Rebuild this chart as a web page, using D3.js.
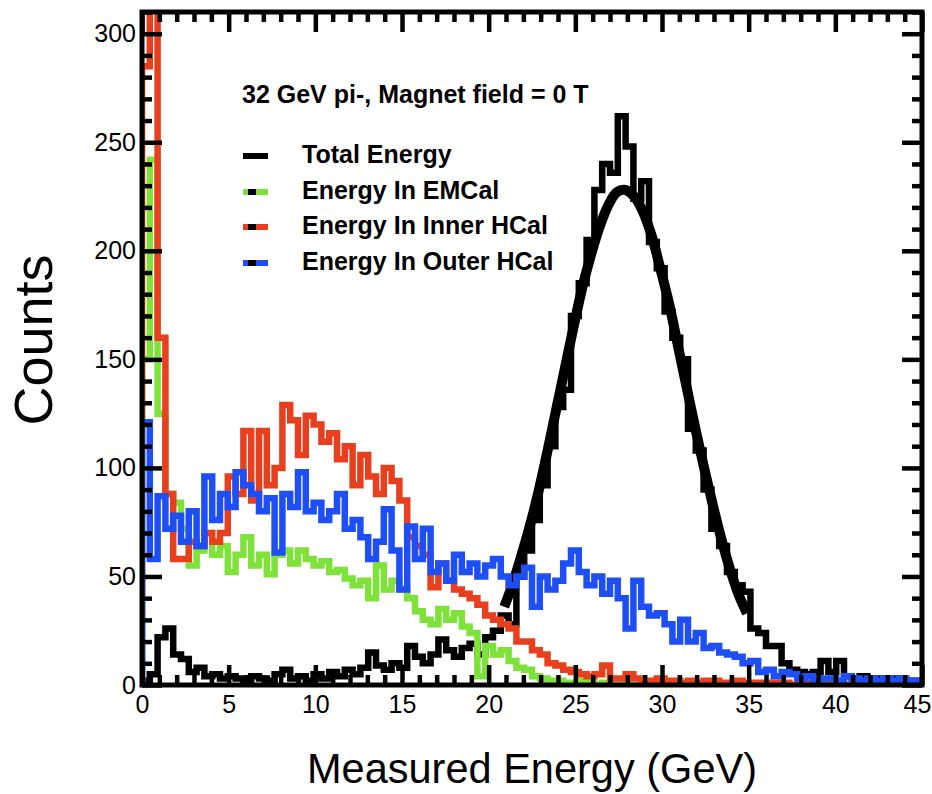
<!DOCTYPE html>
<html>
<head>
<meta charset="utf-8">
<script src="https://cdn.jsdelivr.net/npm/d3@7"></script>
<style>
  body { margin: 0; background: #fff; }
  svg { display: block; }
  text { font-family: "Liberation Sans", Arial, Helvetica, sans-serif; fill: #000; }
</style>
</head>
<body>
<div id="chart-holder"></div>
<script>
// histogram binning: 100 bins of 0.45 GeV from 0 to 45
const binWidth = 0.45;

const totalCounts = [
  2, 5, 22, 26, 14, 12, 6, 8, 4, 5,
  3, 4, 3, 2, 4, 3, 2, 5, 7, 3,
  4, 2, 5, 3, 6, 4, 7, 5, 8, 15,
  9, 7, 10, 8, 18, 13, 10, 14, 21, 16,
  13, 17, 19, 14, 22, 25, 32, 28, 50, 62,
  76, 92, 110, 128, 136, 170, 185, 205, 228, 240,
  236, 262, 248, 224, 232, 204, 192, 172, 160, 150,
  118, 108, 90, 72, 64, 52, 46, 43, 26, 24,
  18, 18, 10, 7, 6, 5, 6, 11, 6, 11,
  4, 3, 4, 2, 3, 2, 3, 2, 2, 2
];

const emcalCounts = [
  150, 242, 125, 88, 84, 72, 55, 62, 70, 60,
  64, 52, 60, 68, 55, 60, 51, 60, 62, 56,
  62, 58, 55, 57, 52, 53, 49, 46, 48, 40,
  55, 44, 48, 44, 40, 34, 30, 28, 35, 30,
  33, 27, 24, 4, 18, 14, 16, 11, 8, 7,
  4, 3, 2, 2, 1, 1, 2, 1, 0, 1,
  0, 0, 0, 0, 0, 0, 0, 0, 0, 0,
  0, 0, 0, 0, 0, 0, 0, 0, 0, 0,
  0, 0, 0, 0, 0, 0, 0, 0, 0, 0,
  0, 0, 0, 0, 0, 0, 0, 0, 0, 0
];

const innerHcalCounts = [
  285, 330, 160, 88, 58, 58, 66, 64, 70, 66,
  70, 96, 88, 117, 85, 117, 92, 100, 129, 122,
  106, 124, 120, 112, 116, 104, 110, 92, 106, 96,
  88, 100, 94, 85, 68, 64, 60, 45, 56, 48,
  44, 42, 40, 37, 32, 30, 28, 26, 20, 20,
  16, 14, 10, 9, 7, 6, 5, 4, 5, 9,
  3, 3, 5, 3, 2, 2, 3, 2, 2, 1,
  2, 1, 2, 2, 1, 1, 2, 1, 1, 1,
  1, 1, 1, 0, 1, 1, 0, 1, 0, 0,
  0, 0, 0, 0, 0, 0, 0, 0, 0, 0
];

const outerHcalCounts = [
  121, 58, 87, 72, 78, 66, 80, 64, 96, 76,
  88, 82, 98, 92, 88, 80, 86, 61, 88, 82,
  98, 80, 84, 76, 80, 88, 72, 76, 68, 58,
  66, 81, 62, 44, 73, 58, 72, 52, 56, 48,
  60, 52, 56, 50, 55, 58, 50, 46, 50, 54,
  36, 50, 44, 48, 56, 62, 52, 46, 50, 42,
  48, 40, 26, 48, 36, 32, 33, 28, 20, 30,
  20, 24, 17, 18, 15, 14, 13, 10, 11, 6,
  7, 4, 6, 5, 3, 4, 2, 3, 3, 2,
  4, 3, 2, 3, 2, 3, 2, 3, 2, 2
];

// fitted curve on the total energy peak
const fitEnergy = [20.9, 21.4, 21.9, 22.4, 22.9, 23.4, 23.9, 24.4, 24.9, 25.4, 25.9, 26.4, 26.9, 27.4, 27.9,
  28.4, 28.9, 29.4, 29.9, 30.4, 30.9, 31.4, 31.9, 32.4, 32.9, 33.4, 33.9, 34.4, 34.9];
const fitCounts = [36, 47, 60, 74, 90, 108, 127, 146, 165, 183, 198, 211, 221, 227, 228,
  225, 218, 207, 192, 176, 157, 138, 119, 101, 84, 68, 54, 42, 33];

const xTicks = [0, 5, 10, 15, 20, 25, 30, 35, 40, 45];
const yTicks = [0, 50, 100, 150, 200, 250, 300];

const legendLabels = ["Total Energy", "Energy In EMCal", "Energy In Inner HCal", "Energy In Outer HCal"];
const seriesColors = ["#000000", "#7ee23a", "#e8401f", "#1d4ef6"];

const width = 932;
const height = 794;
const marginLeft = 142;
const marginRight = 10;
const marginTop = 12;
const marginBottom = 109;

const x = d3.scaleLinear().domain([0, 45]).range([marginLeft, width - marginRight]);
const y = d3.scaleLinear().domain([0, 310]).range([height - marginBottom, marginTop]);

const svg = d3.select("#chart-holder")
  .append("svg")
  .attr("width", width)
  .attr("height", height);

svg.append("defs").append("clipPath")
  .attr("id", "plot-clip")
  .append("rect")
  .attr("x", x(0))
  .attr("y", y(310))
  .attr("width", x(45) - x(0))
  .attr("height", y(0) - y(310));

const plot = svg.append("g").attr("clip-path", "url(#plot-clip)");

const histLine = d3.line()
  .x((d) => x(d[0]))
  .y((d) => y(d[1]))
  .curve(d3.curveStepAfter);

const histPoints = (counts) => {
  const pts = [[0, 0]];
  counts.forEach((c, i) => pts.push([i * binWidth, c]));
  pts.push([counts.length * binWidth, counts[counts.length - 1]]);
  return pts;
};

// total energy histogram and fit
plot.append("path")
  .attr("d", histLine(histPoints(totalCounts)))
  .attr("fill", "none")
  .attr("stroke", seriesColors[0])
  .attr("stroke-width", 6.5);

const fitLine = d3.line()
  .x((d, i) => x(fitEnergy[i]))
  .y((d) => y(d))
  .curve(d3.curveCatmullRom);

plot.append("path")
  .attr("d", fitLine(fitCounts))
  .attr("fill", "none")
  .attr("stroke", "#000")
  .attr("stroke-width", 10);

[[emcalCounts, 1], [innerHcalCounts, 2], [outerHcalCounts, 3]].forEach(([counts, k]) => {
  plot.append("path")
    .attr("d", histLine(histPoints(counts)))
    .attr("fill", "none")
    .attr("stroke", seriesColors[k])
    .attr("stroke-width", 6.5);
});

// axes: ticks on all four sides, pointing inward
const minorX = d3.range(0, 46, 1).filter((v) => v % 5 !== 0);
const minorY = d3.range(0, 311, 10).filter((v) => v % 50 !== 0);

const styleAxis = (g) => {
  g.select(".domain").remove();
  g.selectAll(".tick line").attr("stroke", "#000").attr("stroke-width", 4.5);
  g.selectAll(".tick text").attr("font-size", 25).attr("fill", "#000");
};

svg.append("g")
  .attr("transform", `translate(0,${y(0)})`)
  .call(d3.axisBottom(x).tickValues(xTicks).tickSize(-20).tickPadding(10).tickFormat(d3.format("d")))
  .call(styleAxis)
  .call((g) => g.selectAll(".tick text").filter((d) => d === 45).attr("dx", -5));
svg.append("g")
  .attr("transform", `translate(0,${y(0)})`)
  .call(d3.axisBottom(x).tickValues(minorX).tickSize(-10).tickFormat(""))
  .call(styleAxis);
svg.append("g")
  .attr("transform", `translate(0,${y(310)})`)
  .call(d3.axisTop(x).tickValues(xTicks).tickSize(-20).tickFormat(""))
  .call(styleAxis);
svg.append("g")
  .attr("transform", `translate(0,${y(310)})`)
  .call(d3.axisTop(x).tickValues(minorX).tickSize(-10).tickFormat(""))
  .call(styleAxis);

svg.append("g")
  .attr("transform", `translate(${x(0)},0)`)
  .call(d3.axisLeft(y).tickValues(yTicks).tickSize(-20).tickPadding(6).tickFormat(d3.format("d")))
  .call(styleAxis);
svg.append("g")
  .attr("transform", `translate(${x(0)},0)`)
  .call(d3.axisLeft(y).tickValues(minorY).tickSize(-10).tickFormat(""))
  .call(styleAxis);
svg.append("g")
  .attr("transform", `translate(${x(45)},0)`)
  .call(d3.axisRight(y).tickValues(yTicks).tickSize(-20).tickFormat(""))
  .call(styleAxis);
svg.append("g")
  .attr("transform", `translate(${x(45)},0)`)
  .call(d3.axisRight(y).tickValues(minorY).tickSize(-10).tickFormat(""))
  .call(styleAxis);

// frame
svg.append("rect")
  .attr("x", x(0))
  .attr("y", y(310))
  .attr("width", x(45) - x(0))
  .attr("height", y(0) - y(310))
  .attr("fill", "none")
  .attr("stroke", "#000")
  .attr("stroke-width", 5);

// axis titles
svg.append("text")
  .attr("x", 307)
  .attr("y", 783)
  .attr("font-size", 42)
  .attr("textLength", 450)
  .attr("lengthAdjust", "spacingAndGlyphs")
  .text("Measured Energy (GeV)");

svg.append("text")
  .attr("transform", "translate(52,340) rotate(-90)")
  .attr("text-anchor", "middle")
  .attr("font-size", 54)
  .text("Counts");

// title and legend
svg.append("text")
  .attr("x", 242)
  .attr("y", 103)
  .attr("font-size", 25)
  .attr("font-weight", "bold")
  .text("32 GeV pi-, Magnet field = 0 T");

const legendY = [156, 192, 227, 263];
legendLabels.forEach((label, i) => {
  const g = svg.append("g");
  g.append("line")
    .attr("x1", 243).attr("x2", 268)
    .attr("y1", legendY[i]).attr("y2", legendY[i])
    .attr("stroke", seriesColors[i])
    .attr("stroke-width", 6);
  if (i > 0) {
    g.append("rect")
      .attr("x", 248).attr("y", legendY[i] - 3)
      .attr("width", 8).attr("height", 6)
      .attr("fill", "#000");
  }
  g.append("text")
    .attr("x", 302)
    .attr("y", legendY[i] + 7)
    .attr("font-size", 25)
    .attr("font-weight", "bold")
    .text(label);
});
</script>
</body>
</html>
